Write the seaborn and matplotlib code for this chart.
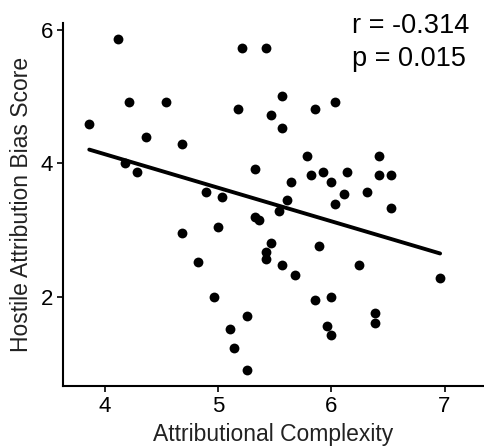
import matplotlib
matplotlib.use("Agg")
import matplotlib.pyplot as plt
import seaborn as sns
import pandas as pd

complexity = [4.112, 5.211, 5.427, 4.214, 4.537, 5.179, 5.463, 3.862, 4.361, 4.680,
              4.179, 4.288, 5.322, 4.894, 5.035, 5.568, 5.568, 5.856, 6.032, 5.785,
              6.425, 5.818, 5.926, 5.996, 6.140, 5.642, 6.425, 6.530, 6.111, 6.316,
              5.609, 5.536, 6.034, 6.530, 5.322, 5.363, 5.463, 5.427, 5.427, 5.890,
              5.568, 5.677, 6.249, 6.961, 5.856, 5.999, 6.390, 6.390, 5.961, 5.999,
              5.003, 4.680, 4.824, 4.961, 5.252, 5.108, 5.143, 5.252]
hostile = [5.862, 5.718, 5.718, 4.909, 4.909, 4.813, 4.719, 4.580, 4.385, 4.289,
           3.996, 3.861, 3.910, 3.570, 3.495, 5.004, 4.529, 4.813, 4.909, 4.105,
           4.105, 3.820, 3.861, 3.720, 3.861, 3.720, 3.820, 3.820, 3.531, 3.570,
           3.446, 3.281, 3.381, 3.330, 3.197, 3.142, 2.806, 2.667, 2.558, 2.757,
           2.467, 2.322, 2.467, 2.277, 1.943, 1.993, 1.753, 1.607, 1.563, 1.419,
           3.046, 2.951, 2.517, 1.993, 1.708, 1.513, 1.228, 0.894]
x_ticks = [4, 5, 6, 7]
y_ticks = [2, 4, 6]
stats_text = ["r = -0.314", "p = 0.015"]

df = pd.DataFrame({"Attributional Complexity": complexity,
                   "Hostile Attribution Bias Score": hostile})

sns.set_style("ticks")
plt.rcParams['font.family'] = ['Liberation Sans', 'DejaVu Sans']

fig = plt.figure(figsize=(4.85, 4.47), dpi=100)
ax = fig.add_axes([63/485, 1 - 386/447, 420/485, (386 - 23)/447])

sns.regplot(data=df, x="Attributional Complexity", y="Hostile Attribution Bias Score",
            ax=ax, ci=None, color="black",
            scatter_kws=dict(s=50, linewidths=0, alpha=1),
            line_kws=dict(lw=2.8, color="black"))

ax.set_xlim(3.63, 7.34)
ax.set_ylim(0.66, 6.10)
ax.set_xticks(x_ticks)
ax.set_yticks(y_ticks)
ax.tick_params(axis='both', labelsize=16, length=4, width=1.2, colors='black', pad=3)
ax.set_xlabel("Attributional Complexity", fontsize=16.5, color='#222222', labelpad=4.5)
ax.set_ylabel("Hostile Attribution Bias Score", fontsize=16.5, color='#222222', labelpad=6)
for s in ["left", "bottom"]:
    ax.spines[s].set_linewidth(1.5)
    ax.spines[s].set_color("black")
sns.despine(ax=ax)

fig.text(352/485, 1 - 13/447, stats_text[0], fontsize=19.5, va='top', ha='left', color='black')
fig.text(352/485, 1 - 46/447, stats_text[1], fontsize=19.5, va='top', ha='left', color='black')

fig.savefig("out.png", dpi=100)
